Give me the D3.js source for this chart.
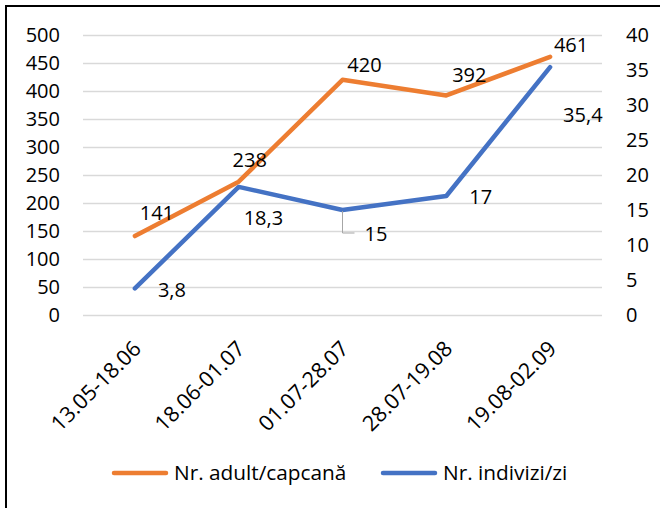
<!DOCTYPE html>
<html lang="ro">
<head>
    <meta charset="utf-8">
    <script src="https://d3js.org/d3.v7.min.js"></script>
    <style>
        body { margin: 0; background: #fff; }
        text { font-family: "Open Sans", "Liberation Sans", sans-serif; font-size: 20px; fill: #000; }
        .grid line { stroke: #d9d9d9; stroke-width: 1.3; }
        .domain { display: none; }
    </style>
</head>
<body>
<div id="canvas"></div>
<script>
    // data
    var categories = ["13.05-18.06", "18.06-01.07", "01.07-28.07", "28.07-19.08", "19.08-02.09"];
    var adultPerTrap = [141, 238, 420, 392, 461];
    var indivPerDay = [3.8, 18.3, 15, 17, 35.4];
    var leftTicks = [0, 50, 100, 150, 200, 250, 300, 350, 400, 450, 500];
    var rightTicks = [0, 5, 10, 15, 20, 25, 30, 35, 40];
    var seriesNames = ["Nr. adult/capcană", "Nr. indivizi/zi"];

    // label nudges (layout only)
    var orangeNudge = [[22, -23], [11, -22], [22, -15], [23, -20], [21, -12]];
    var blueNudge = [[23, 2], [5, 31], [22, 24], [23, 1], [13, 48]];

    var W = 660, H = 508;
    var plotL = 83, plotR = 602, plotT = 35, plotB = 315;
    var orange = "#ed7d31", blue = "#4472c4";

    var svg = d3.select("#canvas").append("svg")
        .attr("width", W).attr("height", H);

    // frame (right/bottom edges run off the picture)
    svg.append("rect")
        .attr("x", 6).attr("y", 6)
        .attr("width", 720).attr("height", 600)
        .attr("fill", "none").attr("stroke", "#000").attr("stroke-width", 2);

    var x = d3.scalePoint().domain(categories).range([plotL, plotR]).padding(0.5);
    var yL = d3.scaleLinear().domain([0, 500]).range([plotB, plotT]);
    var yR = d3.scaleLinear().domain([0, 40]).range([plotB, plotT]);

    // gridlines
    svg.append("g")
        .attr("class", "grid")
        .attr("transform", "translate(" + plotL + ",0)")
        .call(d3.axisLeft(yL).tickValues(leftTicks).tickSize(-(plotR - plotL)).tickFormat(""));

    svg.append("g")
        .attr("class", "axis axis--yl")
        .attr("transform", "translate(" + plotL + ",0)")
        .call(d3.axisLeft(yL).tickValues(leftTicks).tickSize(0).tickPadding(23));

    svg.append("g")
        .attr("class", "axis axis--yr")
        .attr("transform", "translate(" + plotR + ",0)")
        .call(d3.axisRight(yR).tickValues(rightTicks).tickSize(0).tickPadding(24));

    var xa = svg.append("g")
        .attr("class", "axis axis--x")
        .attr("transform", "translate(0," + plotB + ")")
        .call(d3.axisBottom(x).tickSize(0));

    svg.selectAll(".axis text").style("font-size", "20px").style("font-family", null);

    xa.selectAll("text")
        .attr("x", 0).attr("y", 0).attr("dy", 0)
        .attr("text-anchor", "end")
        .attr("transform", "translate(7,35) rotate(-45)")
        .style("font-size", "21.5px");

    var lineL = d3.line()
        .x(function (d, i) { return x(categories[i]); })
        .y(function (d) { return yL(d); });
    var lineR = d3.line()
        .x(function (d, i) { return x(categories[i]); })
        .y(function (d) { return yR(d); });

    svg.append("path").datum(adultPerTrap)
        .attr("d", lineL)
        .attr("fill", "none").attr("stroke", orange).attr("stroke-width", 4.5)
        .attr("stroke-linecap", "round").attr("stroke-linejoin", "round");

    svg.append("path").datum(indivPerDay)
        .attr("d", lineR)
        .attr("fill", "none").attr("stroke", blue).attr("stroke-width", 4.5)
        .attr("stroke-linecap", "round").attr("stroke-linejoin", "round");

    // leader line for the "15" label
    var li = 2;
    var lx = x(categories[li]), ly = yR(indivPerDay[li]);
    svg.append("path")
        .attr("d", "M" + lx + "," + (ly + 1) + "V" + (ly + blueNudge[li][1] - 1) + "H" + (lx + blueNudge[li][0] - 10))
        .attr("fill", "none").attr("stroke", "#a6a6a6").attr("stroke-width", 1);

    var fmt = function (v) { return String(v).replace(".", ","); };

    svg.append("g").selectAll("text")
        .data(adultPerTrap).enter().append("text")
        .attr("x", function (d, i) { return x(categories[i]) + orangeNudge[i][0]; })
        .attr("y", function (d, i) { return yL(d) + orangeNudge[i][1]; })
        .attr("dy", "0.35em")
        .attr("text-anchor", "middle")
        .text(fmt);

    svg.append("g").selectAll("text")
        .data(indivPerDay).enter().append("text")
        .attr("x", function (d, i) { return x(categories[i]) + blueNudge[i][0]; })
        .attr("y", function (d, i) { return yR(d) + blueNudge[i][1]; })
        .attr("dy", "0.35em")
        .attr("text-anchor", "start")
        .text(fmt);

    // legend
    var legend = svg.append("g").attr("class", "legend");
    var legX = [114, 383];
    var legColors = [orange, blue];
    var item = legend.selectAll("g").data(seriesNames).enter().append("g")
        .attr("transform", function (d, i) { return "translate(" + legX[i] + ",473)"; });
    item.append("line")
        .attr("x1", 0).attr("x2", 52)
        .attr("stroke", function (d, i) { return legColors[i]; })
        .attr("stroke-width", 4.5).attr("stroke-linecap", "round");
    item.append("text")
        .attr("x", 60).attr("dy", "0.35em")
        .style("font-size", "20.8px")
        .text(function (d) { return d; });
</script>
</body>
</html>
